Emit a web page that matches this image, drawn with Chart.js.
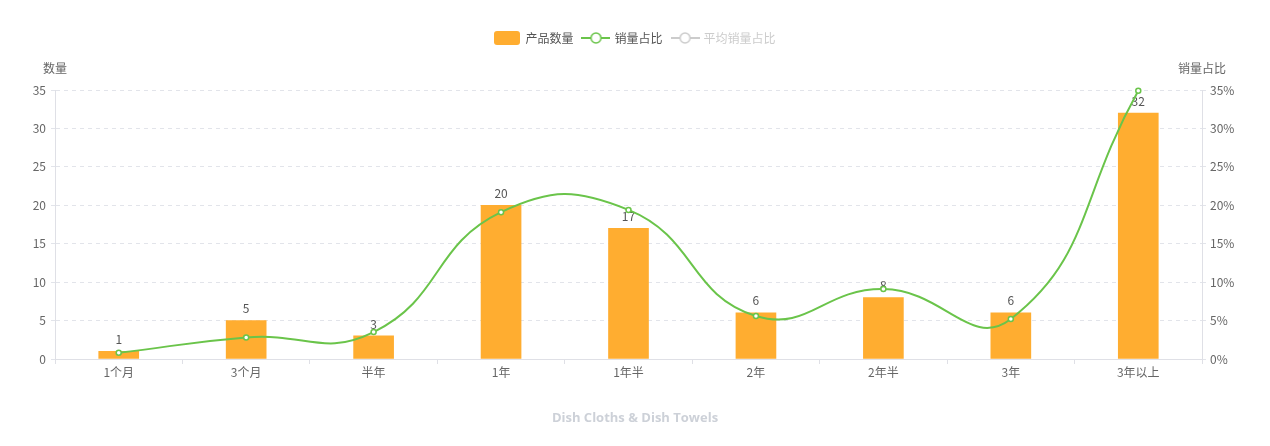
<!DOCTYPE html>
<html><head><meta charset="utf-8">
<script src="https://cdn.jsdelivr.net/npm/chart.js@4"></script>
<style>html,body{margin:0;padding:0;background:#fff;overflow:hidden}</style>
</head><body>
<canvas id="c" width="1270" height="446"></canvas>
<script>
// ---- data ----
const categories = ['1个月','3个月','半年','1年','1年半','2年','2年半','3年','3年以上'];
const productCounts = [1, 5, 3, 20, 17, 6, 8, 6, 32];
const salesShare = [0.8, 2.8, 3.5, 19.1, 19.4, 5.6, 9.1, 5.2, 34.9];
const avgSalesShare = [];
const countTicks = [0, 5, 10, 15, 20, 25, 30, 35];
const shareTicks = [0, 5, 10, 15, 20, 25, 30, 35];
const seriesNames = ['产品数量', '销量占比', '平均销量占比'];
const axisTitles = ['数量', '销量占比'];
const chartTitle = 'Dish Cloths & Dish Towels';

// ---- styles ----
const FONT = '"Noto Sans CJK SC", "Noto Sans", sans-serif';
const BAR = '#ffad30';
const GREEN = '#6ac44a';
const GREY = '#cccccc';
const AXIS = '#dfe0e6';
const GRID = '#e2e4ea';
const TXT = '#666666';

function barIcon(){
  const c = document.createElement('canvas'); c.width = 26; c.height = 14;
  const x = c.getContext('2d'); x.fillStyle = BAR;
  x.beginPath(); x.roundRect(0, 0, 26, 14, 3); x.fill(); return c;
}
function lineIcon(col){
  const c = document.createElement('canvas'); c.width = 29; c.height = 14;
  const x = c.getContext('2d'); x.strokeStyle = col; x.lineWidth = 2;
  x.beginPath(); x.moveTo(0, 7); x.lineTo(29, 7); x.stroke();
  x.fillStyle = '#fff'; x.lineWidth = 1.5;
  x.beginPath(); x.arc(14.5, 7, 5, 0, Math.PI * 2); x.fill(); x.stroke(); return c;
}
const icons = [barIcon(), lineIcon(GREEN), lineIcon(GREY)];
const legendColors = ['#555555', '#555555', GREY];

const extras = {
  id: 'extras',
  beforeInit(chart){
    const fit = chart.legend.fit;
    chart.legend.fit = function(){ fit.call(this); this.height = 68; };
  },
  afterDatasetDraw(chart, args){
    if (args.index !== 0) return;
    const ctx = chart.ctx, meta = chart.getDatasetMeta(0);
    ctx.save();
    ctx.font = '12px ' + FONT; ctx.fillStyle = '#555'; ctx.textAlign = 'center'; ctx.textBaseline = 'middle';
    meta.data.forEach((el, i) => ctx.fillText(String(productCounts[i]), el.x, el.y - 12));
    ctx.restore();
  },
  afterDraw(chart){
    const ctx = chart.ctx, a = chart.chartArea;
    ctx.save();
    ctx.font = '12px ' + FONT; ctx.fillStyle = TXT; ctx.textAlign = 'center'; ctx.textBaseline = 'middle';
    ctx.fillText(axisTitles[0], a.left, a.top - 22);
    ctx.fillText(axisTitles[1], a.right, a.top - 22);
    ctx.restore();
  }
};

new Chart(document.getElementById('c'), {
  data: {
    labels: categories,
    datasets: [
      { type: 'bar', label: seriesNames[0], data: productCounts, backgroundColor: BAR,
        yAxisID: 'y', barThickness: 40, order: 2 },
      { type: 'line', label: seriesNames[1], data: salesShare, yAxisID: 'y1',
        borderColor: GREEN, borderWidth: 2, tension: 0.47, pointRadius: 2.5,
        pointBackgroundColor: '#fff', pointBorderColor: GREEN, pointBorderWidth: 1.5, order: 1, clip: false },
      { type: 'line', label: seriesNames[2], data: avgSalesShare, yAxisID: 'y1', hidden: true,
        borderColor: GREY, order: 0 }
    ]
  },
  options: {
    responsive: false, animation: false, devicePixelRatio: 1,
    layout: { padding: { top: 22, left: 0, right: 0, bottom: 0 } },
    plugins: {
      tooltip: { enabled: false },
      legend: {
        position: 'top', align: 'center', onClick: null,
        labels: {
          usePointStyle: true, pointStyleWidth: 25, boxHeight: 14, padding: 10,
          font: { family: FONT, size: 12 },
          generateLabels(chart){
            return chart.data.datasets.map((ds, i) => ({
              text: ds.label, fillStyle: 'transparent', strokeStyle: 'transparent', lineWidth: 0,
              pointStyle: icons[i], fontColor: legendColors[i], hidden: false, datasetIndex: i
            }));
          }
        }
      },
      title: {
        display: true, position: 'bottom', text: chartTitle, color: '#cdd1d8',
        font: { family: '"Open Sans", sans-serif', size: 13, weight: 'bold' },
        padding: { top: 0, bottom: 20 }
      }
    },
    scales: {
      x: {
        grid: { offset: true, drawOnChartArea: false, drawTicks: true, tickLength: 5, color: AXIS },
        border: { color: AXIS },
        ticks: { color: TXT, font: { family: FONT, size: 12 }, padding: 1, maxRotation: 0 },
        afterFit(s){ s.height = 51.4; }
      },
      y: {
        position: 'left', min: 0, max: 35,
        afterBuildTicks(s){ s.ticks = countTicks.map(v => ({ value: v })); },
        ticks: { color: TXT, font: { family: FONT, size: 12 }, padding: 5 },
        grid: { color: GRID, tickLength: 4, tickColor: GRID },
        border: { color: AXIS, dash: [4, 4] },
        afterFit(s){ s.width = 55; }
      },
      y1: {
        position: 'right', min: 0, max: 35,
        afterBuildTicks(s){ s.ticks = shareTicks.map(v => ({ value: v })); },
        ticks: { color: TXT, font: { family: FONT, size: 12 }, padding: 4, callback: v => v + '%' },
        grid: { drawOnChartArea: false, tickLength: 4, color: GRID },
        border: { color: AXIS },
        afterFit(s){ s.width = 68; }
      }
    }
  },
  plugins: [extras]
});
</script>
</body></html>
